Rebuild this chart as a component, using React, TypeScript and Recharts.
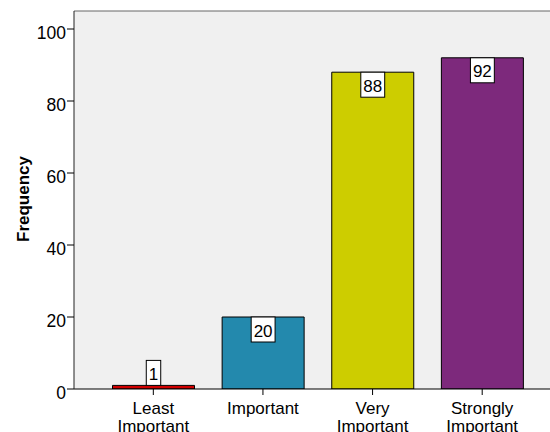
import React from 'react';
import { BarChart, Bar, XAxis, YAxis, CartesianGrid, LabelList, ReferenceLine, Cell } from 'recharts';

const categories = ['Least Important', 'Important', 'Very Important', 'Strongly Important'];
const frequencies = [1, 20, 88, 92];
const barColors = ['#d10000', '#2389ad', '#cdcd00', '#7d297c'];
const yTicks = [0, 20, 40, 60, 80, 100];

const data = categories.map((c, i) => ({ category: c, frequency: frequencies[i] }));

const FONT = '"Liberation Sans", Arial, sans-serif';

const XTick = (props: any) => {
  const { x, y, payload } = props;
  const words = String(payload.value).split(' ');
  return (
    <text textAnchor="middle" fontSize={17} fill="#000" fontFamily={FONT}>
      {words.map((w: string, i: number) => (
        <tspan key={i} x={x} y={y + 17 + i * 18}>{w}</tspan>
      ))}
    </text>
  );
};

const YTick = (props: any) => {
  const { y, payload } = props;
  return (
    <text x={66} y={y + 9.5} textAnchor="end" fontSize={17.5} fill="#000" fontFamily={FONT}>
      {payload.value}
    </text>
  );
};

const ValueLabel = (props: any) => {
  const { x, y, width, height, value } = props;
  const txt = String(value);
  const w = txt.length * 9.45 + 5;
  const h = 25;
  const cx = Number(x) + Number(width) / 2;
  const top = Number(height) >= h ? Number(y) : Number(y) - h;
  return (
    <g>
      <rect x={cx - w / 2} y={top} width={w} height={h} fill="#fff" stroke="#000" strokeWidth={1} />
      <text x={cx} y={top + 19.5} textAnchor="middle" fontSize={17} fill="#000" fontFamily={FONT}>
        {txt}
      </text>
    </g>
  );
};

const YLabel = () => (
  <text
    x={28.5}
    y={199}
    transform="rotate(-90, 28.5, 199)"
    textAnchor="middle"
    fontSize={17}
    fontWeight="bold"
    fill="#000"
    fontFamily={FONT}
  >
    Frequency
  </text>
);

export default function App() {
  return (
    <div style={{ position: 'absolute', left: 0, top: 0, background: '#fff' }}>
      <BarChart
        width={550}
        height={432}
        data={data}
        margin={{ top: 11, right: 0, left: 0, bottom: 0 }}
        style={{ fontFamily: FONT }}
      >
        <CartesianGrid fill="#f0f0f0" stroke="none" horizontal={false} vertical={false} />
        <ReferenceLine y={105} stroke="#666" strokeWidth={1} />
        <XAxis
          dataKey="category"
          height={43}
          padding={{ left: 24.5, right: 13 }}
          axisLine={{ stroke: '#000' }}
          tickLine={{ stroke: '#000' }}
          tickSize={6}
          tick={<XTick />}
          interval={0}
        />
        <YAxis
          width={74}
          domain={[0, 105]}
          ticks={yTicks}
          axisLine={{ stroke: '#222' }}
          tickLine={{ stroke: '#000' }}
          tickSize={7}
          tick={<YTick />}
          label={<YLabel />}
          allowDataOverflow
        />
        <Bar dataKey="frequency" barSize={82} stroke="#000" strokeWidth={1} isAnimationActive={false}>
          {data.map((d, i) => (
            <Cell key={d.category} fill={barColors[i]} />
          ))}
          <LabelList dataKey="frequency" content={<ValueLabel />} />
        </Bar>
      </BarChart>
    </div>
  );
}
